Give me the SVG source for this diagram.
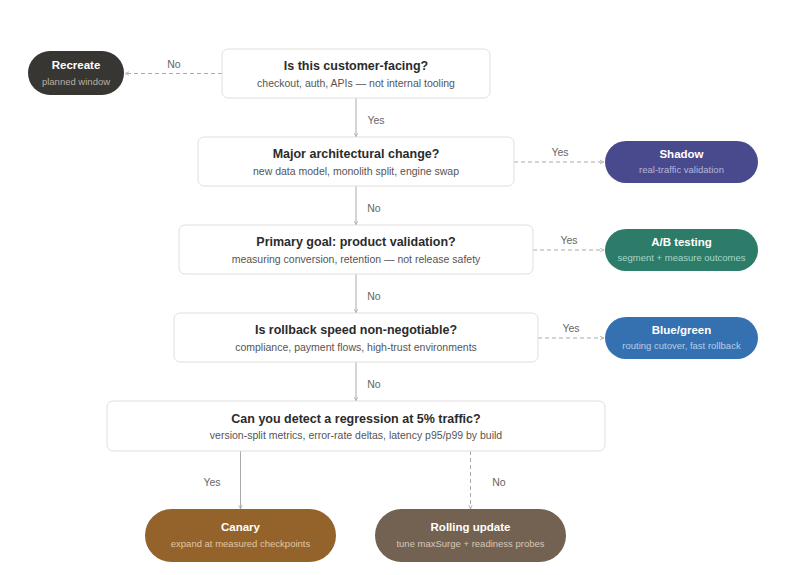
<svg xmlns="http://www.w3.org/2000/svg" width="793" height="575" viewBox="0 0 793 575">
<defs>
<marker id="arr" viewBox="0 0 10 10" refX="9" refY="5" markerWidth="5" markerHeight="5" orient="auto-start-reverse" markerUnits="userSpaceOnUse">
<path d="M1,1.5 L9,5 L1,8.5" fill="none" stroke="#aaa" stroke-width="1.5"/>
</marker>
<style>
.box{fill:#fff;stroke:#e2dfda;stroke-width:1}
.t{font-family:"Liberation Sans",Arial,sans-serif;font-size:12.5px;font-weight:bold;fill:#2b2b2b;text-anchor:middle}
.s{font-family:"Liberation Sans",Arial,sans-serif;font-size:10.5px;fill:#555;text-anchor:middle}
.pt{font-family:"Liberation Sans",Arial,sans-serif;font-size:11.5px;font-weight:bold;fill:#fff;text-anchor:middle}
.ps{font-family:"Liberation Sans",Arial,sans-serif;font-size:9.5px;text-anchor:middle}
.lbl{font-family:"Liberation Sans",Arial,sans-serif;font-size:10.5px;fill:#666;text-anchor:middle}
.solid{stroke:#aaa;stroke-width:1;fill:none;marker-end:url(#arr)}
.dash{stroke:#aaa;stroke-width:1;fill:none;stroke-dasharray:4 3;marker-end:url(#arr)}
</style>
</defs>
<rect width="793" height="575" fill="#fff"/>
<g id="connectors">
<line class="dash" x1="222" y1="73.5" x2="125" y2="73.5"/>
<text class="lbl" x="174" y="68">No</text>
<line class="solid" x1="356" y1="98" x2="356" y2="137"/>
<text class="lbl" x="376" y="124">Yes</text>
<line class="dash" x1="514" y1="162" x2="604" y2="162"/>
<text class="lbl" x="560" y="156">Yes</text>
<line class="solid" x1="356" y1="186" x2="356" y2="225"/>
<text class="lbl" x="374" y="212">No</text>
<line class="dash" x1="533" y1="250" x2="604" y2="250"/>
<text class="lbl" x="569" y="244">Yes</text>
<line class="solid" x1="356" y1="274" x2="356" y2="313"/>
<text class="lbl" x="374" y="300">No</text>
<line class="dash" x1="538" y1="338" x2="604" y2="338"/>
<text class="lbl" x="571" y="332">Yes</text>
<line class="solid" x1="356" y1="362" x2="356" y2="401"/>
<text class="lbl" x="374" y="388">No</text>
<line class="solid" x1="240.5" y1="451" x2="240.5" y2="509"/>
<text class="lbl" x="212" y="486">Yes</text>
<line class="dash" x1="470.5" y1="451" x2="470.5" y2="509"/>
<text class="lbl" x="499" y="486">No</text>
</g>
<g id="q1">
<rect class="box" x="222" y="49" width="268" height="49" rx="6"/>
<text class="t" x="356" y="70">Is this customer-facing?</text>
<text class="s" x="356" y="87">checkout, auth, APIs — not internal tooling</text>
</g>
<g id="q2">
<rect class="box" x="198" y="137" width="316" height="49" rx="6"/>
<text class="t" x="356" y="158">Major architectural change?</text>
<text class="s" x="356" y="175">new data model, monolith split, engine swap</text>
</g>
<g id="q3">
<rect class="box" x="179" y="225" width="354" height="49" rx="6"/>
<text class="t" x="356" y="246">Primary goal: product validation?</text>
<text class="s" x="356" y="263">measuring conversion, retention — not release safety</text>
</g>
<g id="q4">
<rect class="box" x="174" y="313" width="364" height="49" rx="6"/>
<text class="t" x="356" y="334">Is rollback speed non-negotiable?</text>
<text class="s" x="356" y="351">compliance, payment flows, high-trust environments</text>
</g>
<g id="q5">
<rect class="box" x="107" y="401" width="498" height="50" rx="6"/>
<text class="t" x="356" y="423">Can you detect a regression at 5% traffic?</text>
<text class="s" x="356" y="439">version-split metrics, error-rate deltas, latency p95/p99 by build</text>
</g>
<g id="recreate">
<rect x="28" y="51" width="96" height="44" rx="22" fill="#383632"/>
<text class="pt" x="76" y="69">Recreate</text>
<text class="ps" x="76" y="85" fill="#b5b0a8">planned window</text>
</g>
<g id="shadow">
<rect x="605" y="141" width="153" height="42" rx="21" fill="#494a8e"/>
<text class="pt" x="681.5" y="158">Shadow</text>
<text class="ps" x="681.5" y="173" fill="#b4b5dc">real-traffic validation</text>
</g>
<g id="abtesting">
<rect x="605" y="229" width="153" height="42" rx="21" fill="#2c7c69"/>
<text class="pt" x="681.5" y="246">A/B testing</text>
<text class="ps" x="681.5" y="261" fill="#a7d6c8">segment + measure outcomes</text>
</g>
<g id="bluegreen">
<rect x="605" y="317" width="153" height="42" rx="21" fill="#3571b0"/>
<text class="pt" x="681.5" y="334">Blue/green</text>
<text class="ps" x="681.5" y="349" fill="#b5cdea">routing cutover, fast rollback</text>
</g>
<g id="canary">
<rect x="145" y="509" width="191" height="53" rx="26.5" fill="#93632b"/>
<text class="pt" x="240.5" y="531">Canary</text>
<text class="ps" x="240.5" y="547" fill="#e0c7a4">expand at measured checkpoints</text>
</g>
<g id="rolling">
<rect x="375" y="509" width="191" height="53" rx="26.5" fill="#736251"/>
<text class="pt" x="470.5" y="531">Rolling update</text>
<text class="ps" x="470.5" y="547" fill="#d3c7ba">tune maxSurge + readiness probes</text>
</g>
</svg>
